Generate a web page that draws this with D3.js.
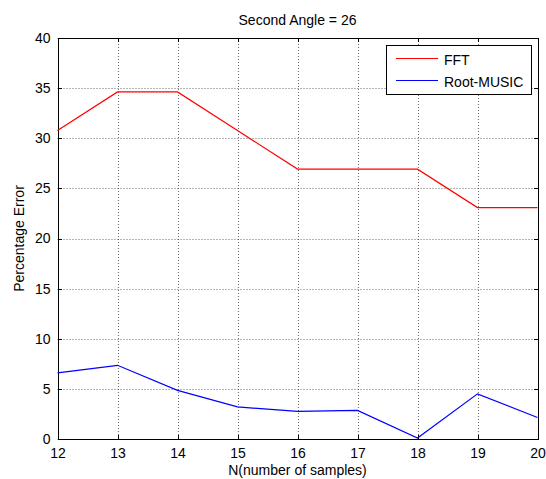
<!DOCTYPE html>
<meta charset="utf-8">
<html>
<head>
  <style>
    body { margin: 0; background: white; }
    text { font-family: "Liberation Sans", Arial, sans-serif; fill: black; }
    .grid line { stroke: #444; stroke-width: 0.8px; stroke-dasharray: 1,2; }
    .axis path, .axis line { stroke: black; shape-rendering: crispEdges; }
    .axis text { font-size: 14px; }
  </style>
</head>
<body>
<svg width="546" height="479"></svg>

<script src="https://d3js.org/d3.v7.min.js"></script>
<script>

// data
const samples = [12, 13, 14, 15, 16, 17, 18, 19, 20];
const fftError = [30.77, 34.62, 34.62, 30.77, 26.92, 26.92, 26.92, 23.08, 23.08];
const musicError = [6.6, 7.35, 4.85, 3.2, 2.75, 2.85, 0.1, 4.5, 2.15];
const yTicks = [0, 5, 10, 15, 20, 25, 30, 35, 40];
const seriesNames = ["FFT", "Root-MUSIC"];
const seriesColors = ["#ff0000", "#0000ff"];

const svg = d3.select("svg");

const plotLeft = 57.5, plotRight = 537.5, plotTop = 38, plotBottom = 439;

const x = d3.scaleLinear().domain([12, 20]).range([plotLeft, plotRight]);
const y = d3.scaleLinear().domain([0, 40]).range([plotBottom, plotTop]);

// grid
const grid = svg.append("g").attr("class", "grid");
grid.selectAll(".gx")
  .data(samples)
  .join("line")
  .attr("class", "gx")
  .attr("x1", d => Math.round(x(d)) + 0.5)
  .attr("x2", d => Math.round(x(d)) + 0.5)
  .attr("y1", plotTop)
  .attr("y2", plotBottom);
grid.selectAll(".gy")
  .data(yTicks)
  .join("line")
  .attr("class", "gy")
  .attr("x1", plotLeft)
  .attr("x2", plotRight)
  .attr("y1", d => Math.round(y(d)) + 0.5)
  .attr("y2", d => Math.round(y(d)) + 0.5);

// axes (ticks pointing inward, like matlab)
svg.append("g")
  .attr("class", "axis")
  .attr("transform", `translate(0,${plotBottom})`)
  .call(d3.axisBottom(x).tickValues(samples).tickSizeInner(-4).tickSizeOuter(0).tickPadding(9))
  .call(g => g.selectAll("text").attr("dy", "0.71em"));

svg.append("g")
  .attr("class", "axis")
  .attr("transform", `translate(${plotLeft},0)`)
  .call(d3.axisLeft(y).tickValues(yTicks).tickSizeInner(-4).tickSizeOuter(0).tickPadding(7));

svg.append("g")
  .attr("class", "axis")
  .attr("transform", `translate(0,${plotTop})`)
  .call(d3.axisTop(x).tickValues(samples).tickSizeInner(-4).tickSizeOuter(0))
  .call(g => g.selectAll("text").remove());

svg.append("g")
  .attr("class", "axis")
  .attr("transform", `translate(${plotRight},0)`)
  .call(d3.axisRight(y).tickValues(yTicks).tickSizeInner(-4).tickSizeOuter(0))
  .call(g => g.selectAll("text").remove());

// lines
const line = d3.line().x((d, i) => x(samples[i])).y(d => y(d));
[fftError, musicError].forEach((vals, k) => {
  svg.append("path")
    .datum(vals)
    .attr("fill", "none")
    .attr("stroke", seriesColors[k])
    .attr("stroke-width", 1.2)
    .attr("d", line);
});

// title and labels
svg.append("text")
  .attr("x", (plotLeft + plotRight) / 2)
  .attr("y", 25)
  .attr("text-anchor", "middle")
  .style("font-size", "14px")
  .text("Second Angle = 26");

svg.append("text")
  .attr("x", (plotLeft + plotRight) / 2)
  .attr("y", 475)
  .attr("text-anchor", "middle")
  .style("font-size", "14px")
  .text("N(number of samples)");

svg.append("text")
  .attr("transform", `translate(24,${(plotTop + plotBottom) / 2}) rotate(-90)`)
  .attr("text-anchor", "middle")
  .style("font-size", "14px")
  .text("Percentage Error");

// legend
const legend = svg.append("g");
legend.append("rect")
  .attr("x", 386.5)
  .attr("y", 45.5)
  .attr("width", 145)
  .attr("height", 49)
  .attr("fill", "white")
  .attr("stroke", "black");
seriesNames.forEach((name, i) => {
  const ly = 58.5 + i * 22;
  legend.append("line")
    .attr("x1", 396).attr("x2", 438)
    .attr("y1", ly).attr("y2", ly)
    .attr("stroke", seriesColors[i])
    .attr("stroke-width", 1.2);
  legend.append("text")
    .attr("x", 444)
    .attr("y", ly + 6)
    .style("font-size", "14px")
    .text(name);
});

</script>
</body>
</html>
